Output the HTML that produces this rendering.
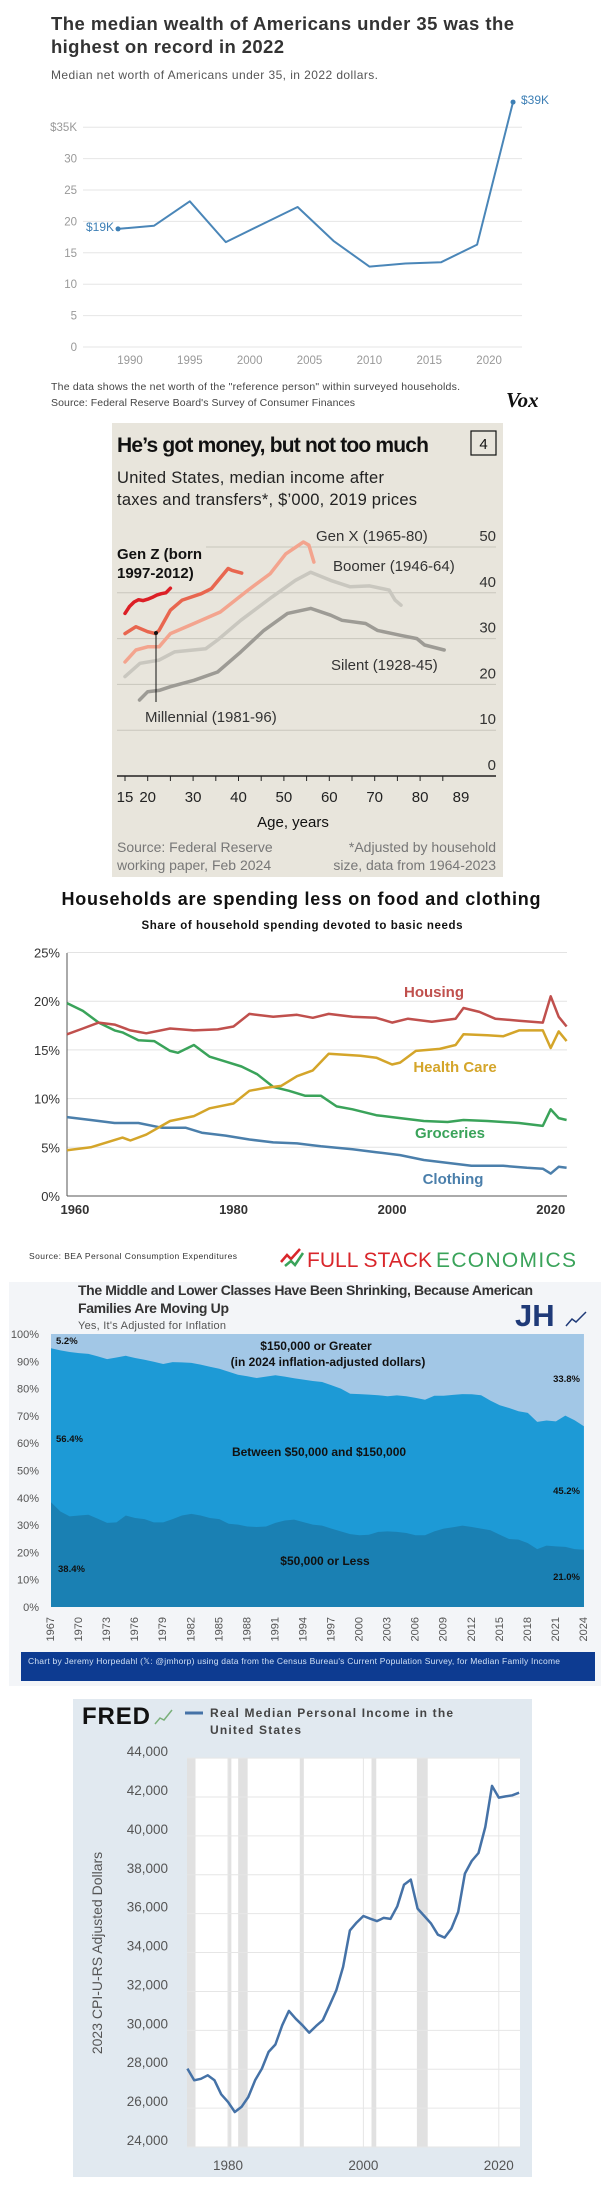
<!DOCTYPE html>
<html><head><meta charset="utf-8"><style>
html,body{margin:0;padding:0;background:#fff;}
svg{display:block;font-family:"Liberation Sans",sans-serif;}
</style></head><body>
<svg id="root" width="604" height="2190" viewBox="0 0 604 2190">
<!-- Chart 1 -->
<g>
<text x="51" y="30" font-size="18.5" font-weight="bold" fill="#333" textLength="463">The median wealth of Americans under 35 was the</text>
<text x="51" y="53" font-size="18.5" font-weight="bold" fill="#333" textLength="233">highest on record in 2022</text>
<text x="51" y="79" font-size="12" fill="#555" textLength="327">Median net worth of Americans under 35, in 2022 dollars.</text>
<g id="c1grid"></g><g id="c1marks"></g>
<text x="86" y="231" font-size="12" fill="#3d7fb5">$19K</text>
<text x="521" y="104" font-size="12" fill="#3d7fb5">$39K</text>
<text x="51" y="390" font-size="10.5" fill="#444" textLength="409">The data shows the net worth of the "reference person" within surveyed households.</text>
<text x="51" y="406" font-size="10.5" fill="#444" textLength="304">Source: Federal Reserve Board's Survey of Consumer Finances</text>
<text x="506" y="407" font-size="21" font-weight="bold" font-style="italic" font-family="Liberation Serif,serif" fill="#111">Vox</text>
</g>
<!-- Chart 2 -->
<g>
<rect x="112" y="423" width="391" height="454" fill="#e8e5dc"/>
<text x="117" y="452" font-size="21" font-weight="bold" font-family="Liberation Sans Narrow,Liberation Sans,sans-serif" fill="#111" textLength="312">He’s got money, but not too much</text>
<rect x="471" y="431" width="25" height="24" fill="none" stroke="#111" stroke-width="1.2"/>
<text x="483.5" y="449" font-size="15" text-anchor="middle" fill="#111">4</text>
<text x="117" y="483" font-size="16.5" font-family="Liberation Sans Narrow,Liberation Sans,sans-serif" fill="#222" textLength="267">United States, median income after</text>
<text x="117" y="505" font-size="16.5" font-family="Liberation Sans Narrow,Liberation Sans,sans-serif" fill="#222" textLength="300">taxes and transfers*, $’000, 2019 prices</text>
<g id="c2grid"></g><g id="c2marks"></g>
<g font-family="Liberation Sans Narrow,Liberation Sans,sans-serif" font-size="15" fill="#333">
<text x="316" y="541">Gen X (1965-80)</text>
<text x="333" y="571">Boomer (1946-64)</text>
<text x="331" y="670">Silent (1928-45)</text>
<text x="145" y="722">Millennial (1981-96)</text>
<text x="117" y="559" font-weight="bold" fill="#111">Gen Z (born</text>
<text x="117" y="578" font-weight="bold" fill="#111">1997-2012)</text>
<text x="293" y="827" text-anchor="middle" fill="#111">Age, years</text>
<text x="117" y="852" fill="#777" font-size="14">Source: Federal Reserve</text>
<text x="117" y="870" fill="#777" font-size="14">working paper, Feb 2024</text>
<text x="496" y="852" fill="#777" font-size="14" text-anchor="end">*Adjusted by household</text>
<text x="496" y="870" fill="#777" font-size="14" text-anchor="end">size, data from 1964-2023</text>
</g>
<line x1="156" y1="633" x2="156" y2="702" stroke="#111" stroke-width="1"/>
<circle cx="156" cy="633" r="2" fill="#111"/>
</g>
<!-- Chart 3 -->
<g>
<text x="301" y="905" font-size="18" font-weight="bold" text-anchor="middle" fill="#111" textLength="479">Households are spending less on food and clothing</text>
<text x="302" y="929" font-size="11.5" font-weight="bold" text-anchor="middle" fill="#111" textLength="321">Share of household spending devoted to basic needs</text>
<g id="c3grid"></g><g id="c3marks"></g>
<g font-size="15" font-weight="bold" text-anchor="middle">
<text x="434" y="997" fill="#c0504d">Housing</text>
<text x="455" y="1072" fill="#d4a52a">Health Care</text>
<text x="450" y="1138" fill="#3aa35a">Groceries</text>
<text x="453" y="1184" fill="#4b7fab">Clothing</text>
</g>
<text x="29" y="1259" font-size="8.5" fill="#333" textLength="208">Source: BEA Personal Consumption Expenditures</text>
<g>
<polyline points="281,1262 287,1255 291,1259 300,1249" fill="none" stroke="#d9262b" stroke-width="2.5"/>
<polyline points="285,1266 291,1261 295,1265 303,1253" fill="none" stroke="#3aa35a" stroke-width="2.5"/>
<text x="307" y="1267" font-size="21" fill="#d9262b" textLength="125">FULL STACK</text>
<text x="436" y="1267" font-size="21" fill="#3aa35a" textLength="140">ECONOMICS</text>
</g>
</g>
<!-- Chart 4 -->
<g>
<rect x="9" y="1282" width="592" height="404" fill="#f3f5f8"/>
<text x="78" y="1295" font-size="14" font-weight="bold" fill="#333" textLength="455">The Middle and Lower Classes Have Been Shrinking, Because American</text>
<text x="78" y="1313" font-size="14" font-weight="bold" fill="#333" textLength="151">Families Are Moving Up</text>
<text x="78" y="1329" font-size="11" fill="#555" textLength="148">Yes, It's Adjusted for Inflation</text>
<text x="515" y="1326" font-size="31" font-weight="bold" fill="#1f3a78">JH</text>
<polyline points="566,1326 572,1319 576,1322 586,1312" fill="none" stroke="#1f3a78" stroke-width="1.5"/>
<g id="c4grid"></g><g id="c4marks"></g>
<g font-size="11" font-weight="bold" fill="#111">
<text x="56" y="1344" font-size="9.5">5.2%</text>
<text x="316" y="1350" text-anchor="middle" font-size="12">$150,000 or Greater</text>
<text x="328" y="1366" text-anchor="middle" font-size="12">(in 2024 inflation-adjusted dollars)</text>
<text x="580" y="1382" text-anchor="end" font-size="9.5">33.8%</text>
<text x="56" y="1442" font-size="9.5">56.4%</text>
<text x="319" y="1456" text-anchor="middle" font-size="12">Between $50,000 and $150,000</text>
<text x="580" y="1494" text-anchor="end" font-size="9.5">45.2%</text>
<text x="325" y="1565" text-anchor="middle" font-size="12">$50,000 or Less</text>
<text x="58" y="1572" font-size="9.5">38.4%</text>
<text x="580" y="1580" text-anchor="end" font-size="9.5">21.0%</text>
</g>
<rect x="21" y="1652" width="574" height="29" fill="#0d3b91"/>
<text x="28" y="1664" font-size="8.5" fill="#cfe0f5" textLength="532">Chart by Jeremy Horpedahl (𝕏: @jmhorp) using data from the Census Bureau's Current Population Survey, for Median Family Income</text>
</g>
<!-- Chart 5 -->
<g>
<rect x="73" y="1699" width="459" height="478" fill="#e1e9f0"/>
<text x="82" y="1724" font-size="24" font-weight="bold" fill="#111" textLength="68">FRED</text>
<polyline points="155,1724 160,1718 164,1720 172,1710" fill="none" stroke="#7ab07a" stroke-width="1.5"/>
<line x1="185" y1="1713" x2="203" y2="1713" stroke="#4572a7" stroke-width="3"/>
<text x="210" y="1717" font-size="12" font-weight="bold" fill="#444" textLength="243">Real Median Personal Income in the</text>
<text x="210" y="1734" font-size="12" font-weight="bold" fill="#444" textLength="91">United States</text>
<g id="c5grid"></g><g id="c5marks"></g>
<text transform="translate(102,1953) rotate(-90)" font-size="14" fill="#555" text-anchor="middle">2023 CPI-U-RS Adjusted Dollars</text>
</g>
</svg>
<script>
// ---------- Chart 1 data ----------
const c1Years = [1989,1992,1995,1998,2001,2004,2007,2010,2013,2016,2019,2022];
const c1Values = [18.8,19.3,23.2,16.7,19.5,22.3,16.9,12.8,13.3,13.5,16.3,39.0];
const c1YTicks = [0,5,10,15,20,25,30,35];
const c1YTickLabels = ["0","5","10","15","20","25","30","$35K"];
const c1XTicks = [1990,1995,2000,2005,2010,2015,2020];
// ---------- Chart 2 data ----------
const c2GenZAge = [15,16,17,18,19,20,21,22,23,24,25];
const c2GenZVal = [35.5,37,38,38.5,38.3,38.6,39,39.5,39.8,40,41];
const c2MilAge = [15,17.4,20,21.7,22.5,25,27.6,31.8,34,37.7,38.6,40.7];
const c2MilVal = [31.1,32.6,31.5,31.1,31.8,36.2,38.4,39.8,40.9,45.3,44.9,44.3];
const c2GenXAge = [15,17.4,20,22.5,25,30.2,36,42,47,50.4,54.3,55.5,56.6];
const c2GenXVal = [24.9,27.5,28.2,28.2,31.1,33.3,35.8,40.5,44.2,48.5,51.1,50.4,46.7];
const c2BoomAge = [15,18.3,22.5,25.9,32.8,35.4,40.5,47.4,52.5,55.9,60.3,64.6,68.9,73.2,74.5,75.8];
const c2BoomVal = [21.7,24.6,25.3,27.1,27.8,29.7,34,39.1,42.7,44.5,42.7,41.3,41.5,40.6,38.4,37.3];
const c2SilAge = [18.2,20,22.5,25,30.2,35.4,40.5,45.6,50.8,55.9,60.3,62.8,68,70.6,75.8,79.3,81,85.3];
const c2SilVal = [16.6,18.4,18.7,19.5,20.9,22.7,27.1,31.8,35.5,36.6,35.1,34,33.3,31.8,30.7,30,28.6,27.5];
const c2YTicks = [0,10,20,30,40,50];
const c2XLabels = [15,20,30,40,50,60,70,80,89];
// ---------- Chart 3 data ----------
const c3HousYr = [1959,1961,1963,1965,1967,1969,1972,1975,1978,1980,1982,1985,1988,1990,1992,1995,1998,2000,2002,2005,2008,2009,2011,2013,2016,2019,2020,2021,2022];
const c3HousVal = [16.6,17.2,17.8,17.6,17.0,16.7,17.2,17.0,17.1,17.4,18.7,18.4,18.6,18.3,18.7,18.4,18.3,17.8,18.2,17.9,18.2,19.3,18.9,18.2,18.0,17.8,20.5,18.4,17.4];
const c3HealthYr = [1959,1962,1964,1966,1967,1969,1972,1975,1977,1980,1982,1984,1986,1988,1990,1992,1994,1996,1998,2000,2001,2003,2006,2008,2009,2012,2014,2016,2019,2020,2021,2022];
const c3HealthVal = [4.7,5.0,5.5,6.0,5.7,6.3,7.7,8.2,9.0,9.5,10.8,11.1,11.3,12.3,12.9,14.6,14.5,14.4,14.2,13.5,13.7,14.9,15.1,15.5,16.6,16.5,16.4,17.0,17.0,15.2,16.9,15.9];
const c3GrocYr = [1959,1961,1963,1965,1966,1968,1970,1972,1973,1975,1977,1979,1981,1983,1985,1987,1989,1991,1993,1995,1998,2001,2004,2007,2009,2012,2016,2019,2020,2021,2022];
const c3GrocVal = [19.8,19.0,17.8,17.0,16.8,16.0,15.9,14.9,14.7,15.5,14.3,13.8,13.3,12.5,11.2,10.8,10.3,10.3,9.2,8.9,8.3,8.0,7.7,7.6,7.8,7.7,7.5,7.2,8.9,8.0,7.8];
const c3ClothYr = [1959,1962,1965,1968,1971,1974,1976,1979,1982,1985,1988,1991,1995,1998,2001,2004,2007,2010,2014,2017,2019,2020,2021,2022];
const c3ClothVal = [8.1,7.8,7.5,7.5,7.0,7.0,6.5,6.2,5.8,5.5,5.4,5.1,4.8,4.5,4.2,3.7,3.4,3.1,3.1,2.9,2.8,2.3,3.0,2.9];
const c3YTicks = [0,5,10,15,20,25];
const c3XTicks = [1960,1980,2000,2020];
// ---------- Chart 4 data ----------
const c4Years = [1967,1968,1969,1970,1971,1972,1973,1974,1975,1976,1977,1978,1979,1980,1981,1982,1983,1984,1985,1986,1987,1988,1989,1990,1991,1992,1993,1994,1995,1996,1997,1998,1999,2000,2001,2002,2003,2004,2005,2006,2007,2008,2009,2010,2011,2012,2013,2014,2015,2016,2017,2018,2019,2020,2021,2022,2023,2024];
const c4Low = [38.4,35,33.2,33.5,33.8,32.3,30.8,31,33.5,32.6,32.2,31,31,32.2,33.5,34.1,33.5,32.6,32.2,30.5,30.2,29.5,29.3,29.5,30.8,31.7,32,31.1,30.2,29.8,28.7,27.7,26.7,26.3,26.5,27.5,27.7,27.5,27.1,26.3,26.3,27.7,28.7,29.2,29.8,29.3,28.7,28.1,26.5,24.9,24.7,23.4,21.2,22.5,22.2,22,21.2,21.0];
const c4High = [5.2,6.0,6.6,7.0,7.3,8.2,9.2,8.6,8.0,8.8,9.4,10.2,11.0,10.3,10.4,10.6,11.2,12.0,12.7,13.8,14.9,15.5,16.1,15.6,15.1,15.6,16.2,16.7,17.2,17.6,18.8,20.0,21.9,22.0,22.2,22.4,22.8,22.5,22.8,23.4,24.1,22.6,22.6,22.3,22.0,22.1,22.4,24.4,26.1,27.1,28.3,28.9,32.2,31.7,32.0,29.9,31.6,33.8];
const c4YTicks = [0,10,20,30,40,50,60,70,80,90,100];
// ---------- Chart 5 data ----------
const c5Years = [1974,1975,1976,1977,1978,1979,1980,1981,1982,1983,1984,1985,1986,1987,1988,1989,1990,1991,1992,1993,1994,1995,1996,1997,1998,1999,2000,2001,2002,2003,2004,2005,2006,2007,2008,2009,2010,2011,2012,2013,2014,2015,2016,2017,2018,2019,2020,2021,2022,2023];
const c5Values = [28030,27430,27510,27690,27430,26710,26320,25800,26060,26570,27430,28030,28890,29270,30260,31000,30600,30260,29880,30220,30520,31290,32060,33260,35140,35540,35880,35740,35620,35780,35730,36380,37490,37750,36260,35880,35490,34920,34770,35230,36090,38060,38710,39120,40460,42570,41970,42030,42090,42220];
const c5YTicks = [24000,26000,28000,30000,32000,34000,36000,38000,40000,42000,44000];
const c5XTicks = [1980,2000,2020];
const c5RecStart = [1973.9,1980.0,1981.5,1990.6,2001.2,2007.9];
const c5RecEnd = [1975.2,1980.5,1982.9,1991.2,2001.9,2009.5];

const NS = "http://www.w3.org/2000/svg";
function mk(parent, tag, attrs, text) {
  const el = document.createElementNS(NS, tag);
  for (const k in attrs) el.setAttribute(k, attrs[k]);
  if (text !== undefined) el.textContent = text;
  parent.appendChild(el);
  return el;
}
function pathD(xs, ys, fx, fy) {
  return xs.map((x, i) => (i ? "L" : "M") + fx(x).toFixed(1) + "," + fy(ys[i]).toFixed(1)).join("");
}

// ---------- Chart 1 ----------
(function(){
  const g = document.getElementById("c1grid"), m = document.getElementById("c1marks");
  const fx = y => 130 + (y - 1990) * 11.97;
  const fy = v => 347 - v * 6.28;
  c1YTicks.forEach((t, i) => {
    const l = mk(g, "line", {x1:83, x2:522, y1:fy(t), y2:fy(t), stroke:"#e6e6e6", "stroke-width":1});
    
    
    const tx = mk(g, "text", {x:77, y:fy(t)+4, "font-size":11.5, fill:"#999", "text-anchor":"end"}, c1YTickLabels[i]);
    
    
  });
  c1XTicks.forEach(t => {
    const tx = mk(g, "text", {x:fx(t), y:364, "font-size":11.5, fill:"#999", "text-anchor":"middle"}, String(t));
    
    
  });
  const p = mk(m, "path", {d:pathD(c1Years, c1Values, fx, fy), fill:"none", stroke:"#4a86b8", "stroke-width":2, "stroke-linejoin":"round"});
  
  
  [0, c1Years.length - 1].forEach(i => {
    const c = mk(m, "circle", {cx:fx(c1Years[i]), cy:fy(c1Values[i]), r:2.5, fill:"#3d7fb5"});
    
    
  });
})();

// ---------- Chart 2 ----------
(function(){
  const g = document.getElementById("c2grid"), m = document.getElementById("c2marks");
  const fx = a => 125 + (a - 15) * 4.54;
  const fy = v => 776 - v * 4.58;
  c2YTicks.forEach(t => {
    if (t > 0) {
      const l = mk(g, "line", {x1: t === 50 ? 206 : 117, x2:496, y1:fy(t), y2:fy(t), stroke:"#c9c6bd", "stroke-width":1});
      
      
    }
    const tx = mk(g, "text", {x:496, y:fy(t)-6, "font-size":15, fill:"#333", "text-anchor":"end", "font-family":"Liberation Sans Narrow,Liberation Sans,sans-serif"}, String(t));
    
    
  });
  const ax = mk(g, "line", {x1:117, x2:496, y1:776, y2:776, stroke:"#222", "stroke-width":1.5});
  
  
  for (let a = 15; a <= 85; a += 5) {
    const tk = mk(g, "line", {x1:fx(a), x2:fx(a), y1:776, y2:781, stroke:"#222", "stroke-width":1});
    
    
  }
  c2XLabels.forEach(a => {
    const tx = mk(g, "text", {x:fx(a), y:802, "font-size":15, fill:"#222", "text-anchor":"middle", "font-family":"Liberation Sans Narrow,Liberation Sans,sans-serif"}, String(a));
    
    
  });
  const series = [
    [c2SilAge, c2SilVal, "#9d9b95", "silent-line"],
    [c2BoomAge, c2BoomVal, "#c9c7bf", "boomer-line"],
    [c2GenXAge, c2GenXVal, "#f3a48e", "genx-line"],
    [c2MilAge, c2MilVal, "#e8664f", "millennial-line"],
    [c2GenZAge, c2GenZVal, "#dc1f26", "genz-line"]
  ];
  series.forEach(s => {
    const p = mk(m, "path", {d:pathD(s[0], s[1], fx, fy), fill:"none", stroke:s[2], "stroke-width":3.5, "stroke-linejoin":"round", "stroke-linecap":"round"});
    
    
  });
})();

// ---------- Chart 3 ----------
(function(){
  const g = document.getElementById("c3grid"), m = document.getElementById("c3marks");
  const fx = y => 67 + (y - 1959) * 7.93;
  const fy = v => 1196 - v * 9.74;
  c3YTicks.forEach(t => {
    if (t > 0) {
      const l = mk(g, "line", {x1:67, x2:567, y1:fy(t), y2:fy(t), stroke:"#e3e3e3", "stroke-width":1});
      
      
    }
    const tx = mk(g, "text", {x:60, y:fy(t)+5, "font-size":13, fill:"#333", "text-anchor":"end"}, t + "%");
    
    
  });
  const ya = mk(g, "line", {x1:67, x2:67, y1:953, y2:1196, stroke:"#555", "stroke-width":1});
  
  
  const xa = mk(g, "line", {x1:67, x2:567, y1:1196, y2:1196, stroke:"#555", "stroke-width":1});
  
  
  c3XTicks.forEach(t => {
    const tx = mk(g, "text", {x:fx(t), y:1214, "font-size":13, "font-weight":"bold", fill:"#333", "text-anchor":"middle"}, String(t));
    
    
  });
  const series = [
    [c3ClothYr, c3ClothVal, "#4b7fab", "clothing-line"],
    [c3GrocYr, c3GrocVal, "#3aa35a", "groceries-line"],
    [c3HealthYr, c3HealthVal, "#d4a52a", "health-care-line"],
    [c3HousYr, c3HousVal, "#c0504d", "housing-line"]
  ];
  series.forEach(s => {
    const p = mk(m, "path", {d:pathD(s[0], s[1], fx, fy), fill:"none", stroke:s[2], "stroke-width":2.5, "stroke-linejoin":"round"});
    
    
  });
})();

// ---------- Chart 4 ----------
(function(){
  const g = document.getElementById("c4grid"), m = document.getElementById("c4marks");
  const fx = y => 51 + (y - 1967) * 9.35;
  const fy = v => 1607 - v * 2.73;
  const x0 = fx(c4Years[0]), x1 = fx(c4Years[c4Years.length - 1]);
  const top = mk(m, "rect", {x:x0, y:fy(100), width:x1 - x0, height:fy(0) - fy(100), fill:"#a2c7e6"});
  
  
  const midPts = c4Years.map((y, i) => fx(y).toFixed(1) + "," + fy(100 - c4High[i]).toFixed(1)).join(" ");
  const mid = mk(m, "polygon", {points: midPts + " " + x1 + "," + fy(0) + " " + x0 + "," + fy(0), fill:"#1d9ad6"});
  
  
  const lowPts = c4Years.map((y, i) => fx(y).toFixed(1) + "," + fy(c4Low[i]).toFixed(1)).join(" ");
  const low = mk(m, "polygon", {points: lowPts + " " + x1 + "," + fy(0) + " " + x0 + "," + fy(0), fill:"#1a80b3"});
  
  
  c4YTicks.forEach(t => {
    const tx = mk(g, "text", {x:39, y:fy(t)+4, "font-size":11, fill:"#555", "text-anchor":"end"}, t + "%");
    
    
  });
  for (let y = 1967; y <= 2024; y += 3) {
    const tx = mk(g, "text", {transform:"translate(" + fx(y).toFixed(1) + ",1617) rotate(-90)", "font-size":11, fill:"#555", "text-anchor":"end", "dominant-baseline":"central"}, String(y));
    
    
  }
})();

// ---------- Chart 5 ----------
(function(){
  const g = document.getElementById("c5grid"), m = document.getElementById("c5marks");
  const fx = y => 228 + (y - 1980) * 6.77;
  const fy = v => 2147 - (v - 24000) * 0.019444;
  const bg = mk(g, "rect", {x:187, y:1758, width:333, height:2147 - 1758, fill:"#ffffff"});
  
  
  c5RecStart.forEach((s, i) => {
    const r = mk(g, "rect", {x:Math.max(187, fx(s)), y:1758, width:fx(c5RecEnd[i]) - Math.max(187, fx(s)), height:2147 - 1758, fill:"#e1e1e1"});
    
    
  });
  c5YTicks.forEach(t => {
    const l = mk(g, "line", {x1:187, x2:520, y1:fy(t), y2:fy(t), stroke:"#e6e6e6", "stroke-width":1});
    
    
    const tx = mk(g, "text", {x:168, y:fy(t)-2, "font-size":13.5, fill:"#555", "text-anchor":"end"}, t.toLocaleString("en-US"));
    
    
  });
  c5XTicks.forEach(t => {
    const l = mk(g, "line", {x1:fx(t), x2:fx(t), y1:1758, y2:2147, stroke:"#e6e6e6", "stroke-width":1});
    
    
    const tx = mk(g, "text", {x:fx(t), y:2170, "font-size":13.5, fill:"#555", "text-anchor":"middle"}, String(t));
    
    
  });
  const p = mk(m, "path", {d:pathD(c5Years, c5Values, fx, fy), fill:"none", stroke:"#4572a7", "stroke-width":2.5, "stroke-linejoin":"round"});
  
  
})();
</script>
</body></html>
